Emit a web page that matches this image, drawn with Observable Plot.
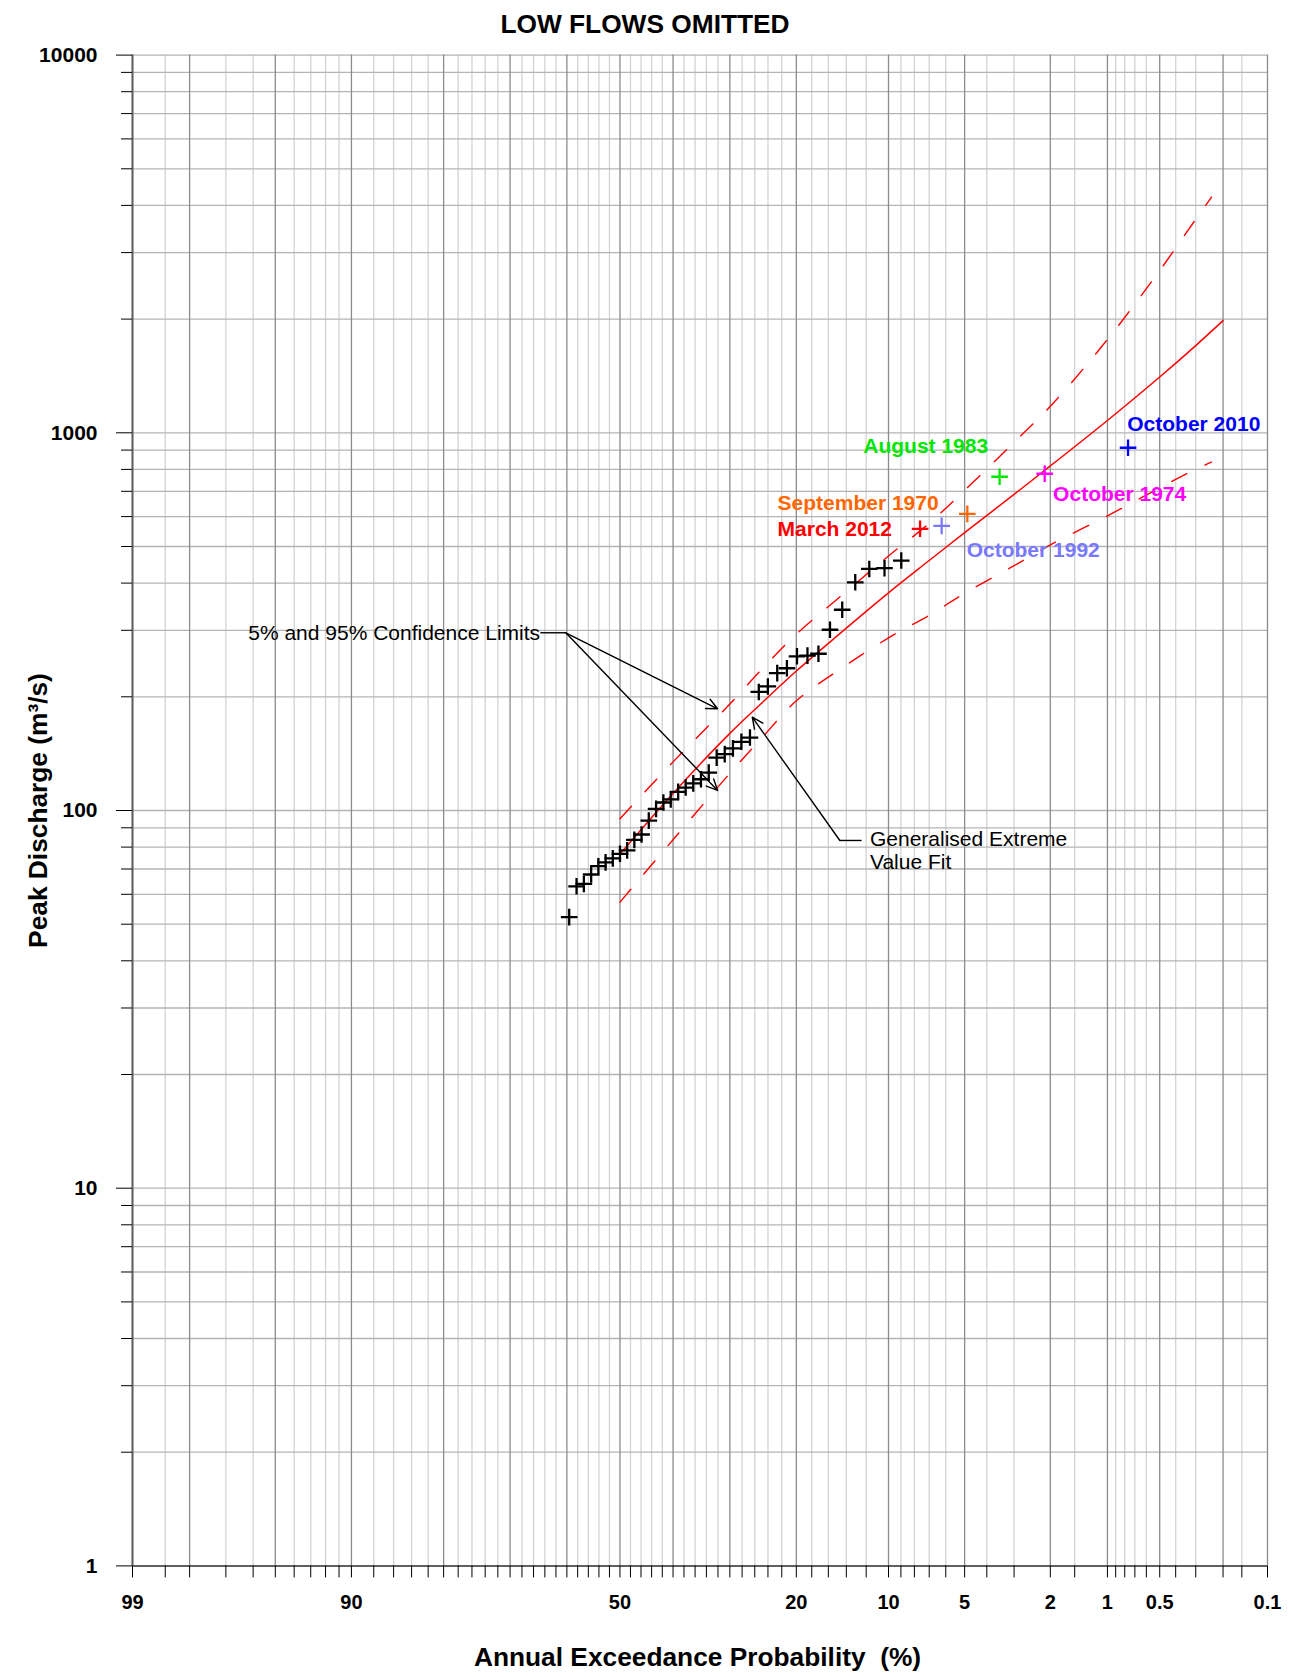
<!DOCTYPE html>
<html><head><meta charset="utf-8">
<script src="https://cdn.jsdelivr.net/npm/d3@7"></script>
<script src="https://cdn.jsdelivr.net/npm/@observablehq/plot@0.6"></script>
<style>body{margin:0;background:#fff;}</style>
</head><body>
<script>
// ---------- data ----------
const titleText = "LOW FLOWS OMITTED";
const xTitle = "Annual Exceedance Probability\u00a0 (%)";
const yTitle = "Peak Discharge (m\u00b3/s)";

const xTickLabels = [99, 90, 50, 20, 10, 5, 2, 1, 0.5, 0.1];
const xGridMajor = [99, 98, 95, 90, 80, 70, 60, 50, 40, 30, 20, 10, 5, 2, 1, 0.5, 0.2, 0.1];
const xGridMinor = [98.5, 97, 96, 94, 93, 92, 91, 88, 86, 84, 82, 78, 76, 74, 72, 68, 66, 64, 62,
  58, 56, 54, 52, 48, 46, 44, 42, 38, 36, 34, 32, 28, 26, 24, 22, 18, 16, 14, 12,
  9, 8, 7, 6, 4, 3, 1.5, 0.9, 0.8, 0.7, 0.6, 0.4, 0.3, 0.15];
const yTickLabels = [1, 10, 100, 1000, 10000];
const yGridMinor = [2, 3, 4, 5, 6, 7, 8, 9, 20, 30, 40, 50, 60, 70, 80, 90,
  200, 300, 400, 500, 600, 700, 800, 900, 2000, 3000, 4000, 5000, 6000, 7000, 8000, 9000];

// observed annual peaks (black), AEP % and discharge
const obsAEP = [8.972, 10.339, 11.707, 13.074, 14.442, 15.810, 17.177, 18.545, 19.912, 21.280,
  22.648, 24.015, 25.383, 26.751, 28.118, 29.486, 30.853, 32.221, 33.589, 34.956,
  36.324, 37.691, 39.059, 40.427, 41.794, 43.162, 44.530, 45.897, 47.265, 48.632,
  50.000, 51.368, 52.735, 54.103, 55.470, 56.838, 58.206, 59.573];
const obsQ = [459, 438, 436, 402, 340, 301, 260, 257, 256, 238,
  231, 213, 206, 156, 152, 146, 141, 138, 126, 121,
  118, 115, 112, 107, 105, 101, 94, 86.4, 83.6, 78.4,
  76.8, 74.7, 72.9, 71.2, 67.7, 63.9, 63.0, 52.2];

// named events
const eventNames = ["October 2010", "October 1974", "August 1983", "September 1970", "October 1992", "March 2012"];
const eventAEP = [0.766, 2.133, 3.501, 4.869, 6.236, 7.604];
const eventQ = [913, 779, 765, 610, 567, 557];
const eventColors = ["#0000ff", "#ff00ff", "#00e600", "#ff6600", "#7878ff", "#ff0000"];
const eventLabelAEP = [0.774, 1.936, 12.28, 22.6, 4.90, 22.6];
const eventLabelQ = [1052, 686, 924, 651, 489, 556];

// generalised extreme value fit
const gevAEP = [50, 40, 30, 25, 20, 15, 10, 7, 5, 3, 2, 1, 0.5, 0.3, 0.2];
const gevQ = [76.7, 111, 160, 192, 234, 290, 377, 459, 544, 687, 817, 1078, 1405, 1702, 1981];

// 5% and 95% confidence limits
const ciAEP = [50, 40, 30, 25, 20, 15, 10, 7, 5, 3, 2, 1, 0.5, 0.3, 0.238];
const ciUpper = [95.1, 134.5, 191.4, 235.7, 293, 362.6, 471.9, 576, 704.5, 944, 1175, 1766, 2690, 3675, 4206];
const ciLower = [57.2, 83.7, 125.4, 155.1, 195.2, 233.8, 286.4, 328.7, 375.8, 444.7, 505.2, 602.6, 715.1, 800.6, 835.8];

// annotations (AEP %, discharge)
const confText = "5% and 95% Confidence Limits";
const confTextPos = [64.85, 295.5];
const confLeader = [64.8, 295.5, 60.2, 295.5];
const confArrows = [[60.2, 295.5, 32.06, 185.9], [60.2, 295.5, 32.06, 113.0]];
const gevText = "Generalised Extreme\nValue Fit";
const gevTextPos = [11.64, 78.6];
const gevLeader = [12.44, 83.3, 14.7, 83.3];
const gevArrow = [14.7, 83.3, 26.39, 176.6];

// ---------- helpers ----------
function qnorm(p) {
  const a=[-3.969683028665376e+01,2.209460984245205e+02,-2.759285104469687e+02,1.383577518672690e+02,-3.066479806614716e+01,2.506628277459239e+00];
  const b=[-5.447609879822406e+01,1.615858368580409e+02,-1.556989798598866e+02,6.680131188771972e+01,-1.328068155288572e+01];
  const c=[-7.784894002430293e-03,-3.223964580411365e-01,-2.400758277161838e+00,-2.549732539343734e+00,4.374664141464968e+00,2.938163982698783e+00];
  const d=[7.784695709041462e-03,3.224671290700398e-01,2.445134137142996e+00,3.754408661907416e+00];
  const pl = 0.02425, ph = 1 - pl;
  let q, r;
  if (p < pl) { q = Math.sqrt(-2*Math.log(p)); return (((((c[0]*q+c[1])*q+c[2])*q+c[3])*q+c[4])*q+c[5])/((((d[0]*q+d[1])*q+d[2])*q+d[3])*q+1); }
  if (p <= ph) { q = p - 0.5; r = q*q; return (((((a[0]*r+a[1])*r+a[2])*r+a[3])*r+a[4])*r+a[5])*q/(((((b[0]*r+b[1])*r+b[2])*r+b[3])*r+b[4])*r+1); }
  q = Math.sqrt(-2*Math.log(1-p));
  return -(((((c[0]*q+c[1])*q+c[2])*q+c[3])*q+c[4])*q+c[5])/((((d[0]*q+d[1])*q+d[2])*q+d[3])*q+1);
}
const U = aep => qnorm(1 - aep / 100);

const plusSymbol = {
  draw(ctx, size) {
    const s = Math.sqrt(size / Math.PI);
    ctx.moveTo(-s, 0); ctx.lineTo(s, 0);
    ctx.moveTo(0, -s); ctx.lineTo(0, s);
  }
};

const obs = obsAEP.map((a, i) => ({aep: a, q: obsQ[i]}));
const events = eventNames.map((n, i) => ({name: n, aep: eventAEP[i], q: eventQ[i], color: eventColors[i], la: eventLabelAEP[i], lq: eventLabelQ[i]}));
const gev = gevAEP.map((a, i) => ({aep: a, q: gevQ[i]}));
const upper = ciAEP.map((a, i) => ({aep: a, q: ciUpper[i]}));
const lower = ciAEP.map((a, i) => ({aep: a, q: ciLower[i]}));
const seg = s => ({a1: s[0], q1: s[1], a2: s[2], q2: s[3]});
const arrows = confArrows.map(seg).concat([seg(gevArrow)]);
const leaders = [seg(confLeader), seg(gevLeader)];

const FONT = "'Liberation Sans', Arial, Helvetica, sans-serif";

const chart = Plot.plot({
  width: 1312, height: 1677,
  marginLeft: 132, marginRight: 45, marginTop: 54.6, marginBottom: 111.6,
  x: {type: "linear", domain: [U(99), U(0.1)], label: null},
  y: {type: "log", domain: [1, 10000], label: null},
  color: {type: "identity"},
  style: {fontFamily: FONT, background: "white", color: "black"},
  marks: [
    Plot.ruleX(xGridMinor, {x: U, stroke: "#d3d3d3", strokeWidth: 1.3}),
    Plot.ruleY(yGridMinor.concat(yTickLabels), {y: d => d, stroke: "#b4b4b4", strokeWidth: 1.3}),
    Plot.ruleX(xGridMajor, {x: U, stroke: "#8c8c8c", strokeWidth: 1.3}),
    Plot.ruleX([99], {x: U, stroke: "#606060", strokeWidth: 2}),
    Plot.ruleY([1], {y: d => d, stroke: "#606060", strokeWidth: 2}),
    Plot.axisX({ticks: xGridMajor.concat(xGridMinor).map(U), tickSize: 12, tickFormat: () => "", stroke: "black"}),
    Plot.axisY({ticks: yTickLabels, tickSize: 16, tickPadding: 19, tickFormat: d => String(d), fontSize: 21, fontWeight: "bold", stroke: "black"}),
    Plot.axisY({ticks: yGridMinor, tickSize: 11, tickFormat: () => "", stroke: "black"}),
    Plot.text(xTickLabels, {x: U, frameAnchor: "bottom", lineAnchor: "middle", dy: 36.6, text: d => String(d), fontSize: 20, fontWeight: "bold", fill: "black"}),
    Plot.text([xTitle], {frameAnchor: "bottom", lineAnchor: "middle", dy: 91.6, dx: -2.5, text: d => d, fontSize: 26.3, fontWeight: "bold", fill: "black"}),
    Plot.text([yTitle], {frameAnchor: "left", textAnchor: "middle", lineAnchor: "middle", dx: -93.5, rotate: -90, text: d => d, fontSize: 26.3, fontWeight: "bold", fill: "black"}),
    Plot.text([titleText], {frameAnchor: "top", lineAnchor: "middle", dy: -31, dx: -55, text: d => d, fontSize: 26.3, fontWeight: "bold", fill: "black"}),
    // curves
    Plot.line(upper, {x: d => U(d.aep), y: "q", stroke: "#ff0000", strokeWidth: 1.4, strokeDasharray: "17,20", curve: "catmull-rom"}),
    Plot.line(lower, {x: d => U(d.aep), y: "q", stroke: "#ff0000", strokeWidth: 1.4, strokeDasharray: "17,20", curve: "catmull-rom"}),
    Plot.line(gev, {x: d => U(d.aep), y: "q", stroke: "#ff0000", strokeWidth: 1.5, curve: "catmull-rom"}),
    // points
    Plot.dot(obs, {x: d => U(d.aep), y: "q", symbol: plusSymbol, r: 8.3, stroke: "black", strokeWidth: 2.3, fill: "none"}),
    Plot.dot(events, {x: d => U(d.aep), y: "q", symbol: plusSymbol, r: 8.3, stroke: "color", strokeWidth: 2.3, fill: "none"}),
    Plot.text(events, {x: d => U(d.la), y: "lq", text: "name", fill: "color", fontSize: 21, fontWeight: "bold", textAnchor: "start"}),
    // annotations
    Plot.link(leaders, {x1: d => U(d.a1), y1: "q1", x2: d => U(d.a2), y2: "q2", stroke: "black", strokeWidth: 1.4}),
    Plot.arrow(arrows, {x1: d => U(d.a1), y1: "q1", x2: d => U(d.a2), y2: "q2", stroke: "black", strokeWidth: 1.4, headLength: 13, headAngle: 50}),
    Plot.text([confText], {x: () => U(confTextPos[0]), y: () => confTextPos[1], text: d => d, textAnchor: "end", fontSize: 21, fill: "black"}),
    Plot.text([gevText], {x: () => U(gevTextPos[0]), y: () => gevTextPos[1], text: d => d, textAnchor: "start", fontSize: 21, lineHeight: 1.1, fill: "black"})
  ]
});
document.body.appendChild(chart);
</script>
</body></html>
